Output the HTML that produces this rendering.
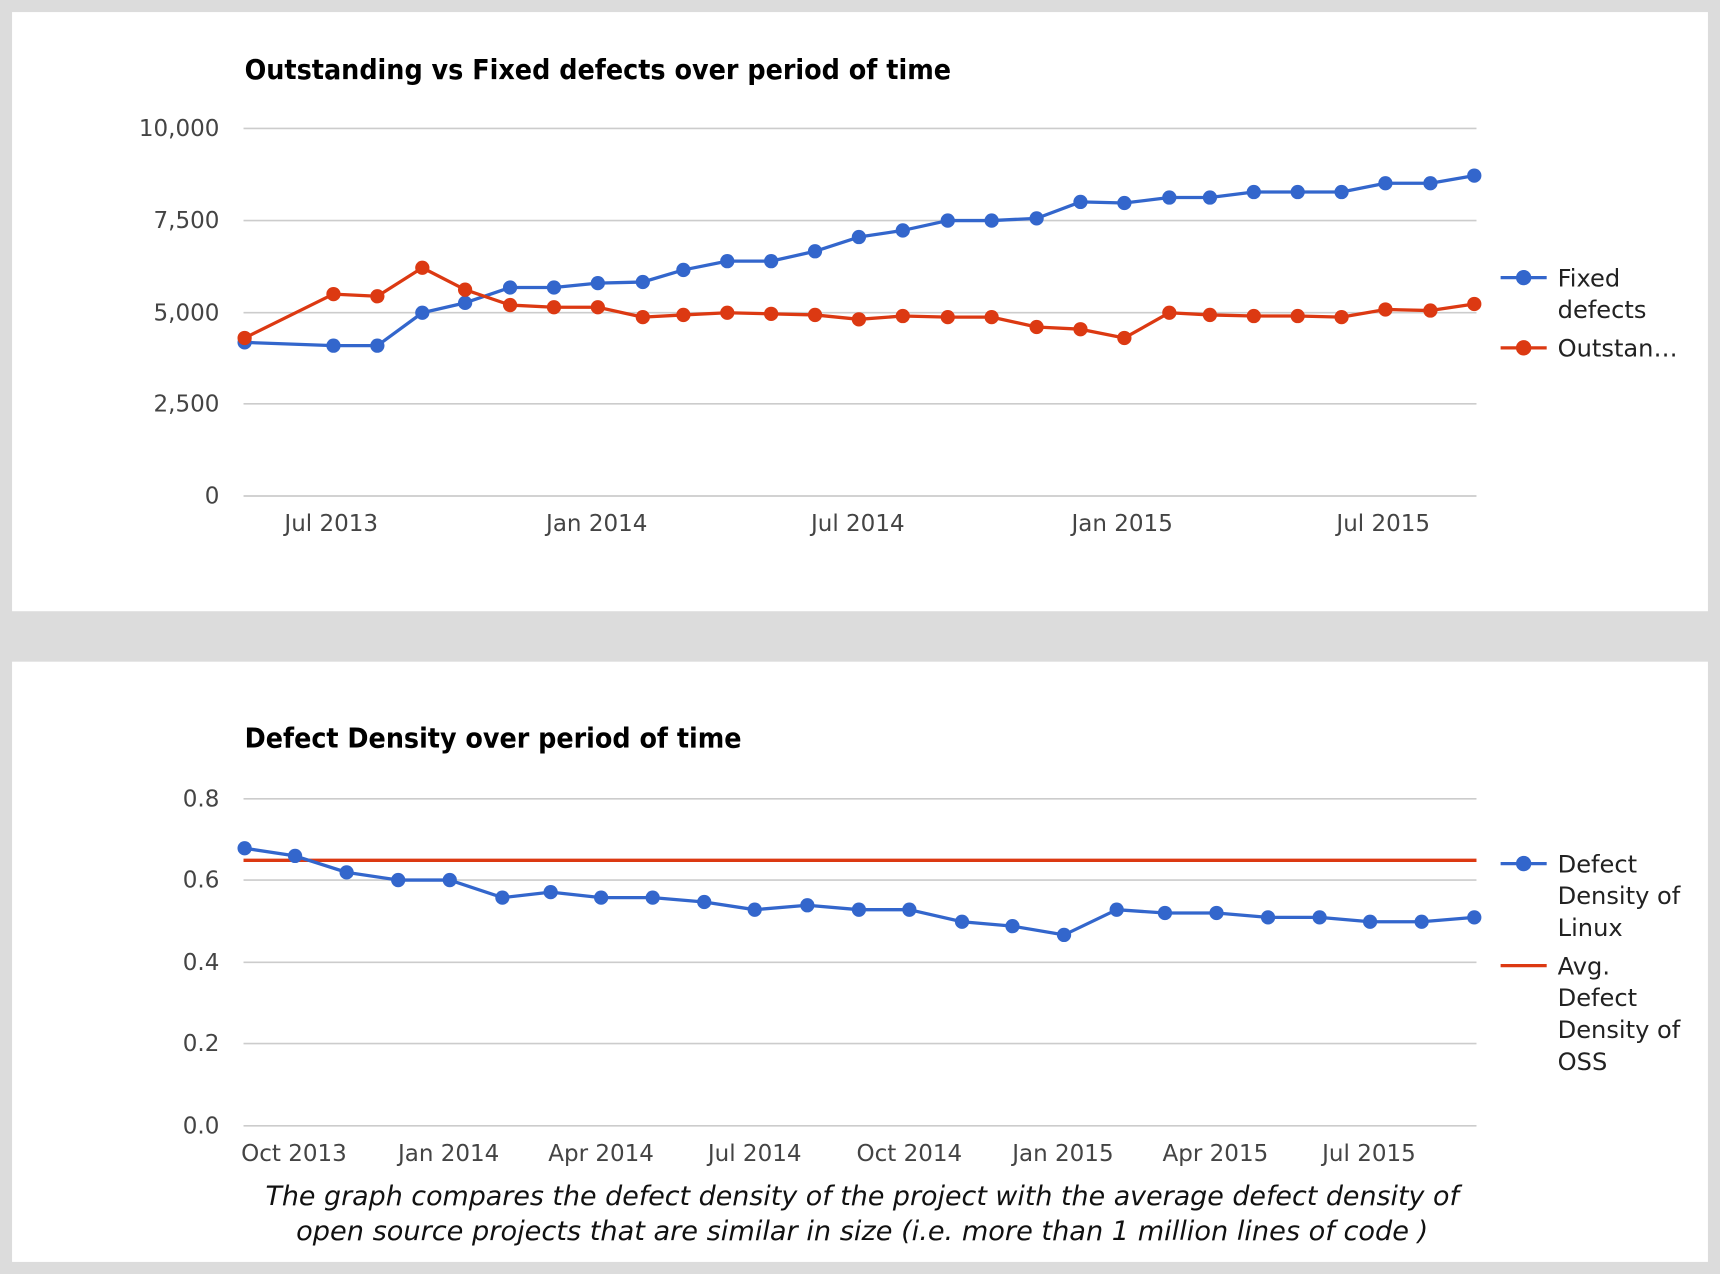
<!DOCTYPE html>
<html><head><meta charset="utf-8"><style>
html,body{margin:0;padding:0;background:#dcdcdc;}
svg{display:block;}
text{font-family:"DejaVu Sans","Liberation Sans",sans-serif;}
.t{font-size:25px;font-weight:bold;fill:#000;}
.ax{font-size:21px;fill:#444;}
.lg{font-size:22px;fill:#222;}
.g{stroke:#ccc;stroke-width:1.5;}
</style></head><body>
<svg width="1720" height="1274" viewBox="0 0 1568 1161" preserveAspectRatio="none">
<rect x="0" y="0" width="1568" height="1161" fill="#dcdcdc"/>
<rect x="11" y="11" width="1546" height="546" fill="#fff"/>
<rect x="11" y="603" width="1546" height="547" fill="#fff"/>

<!-- Chart 1 -->
<text class="t" x="223" y="72" textLength="644" lengthAdjust="spacingAndGlyphs">Outstanding vs Fixed defects over period of time</text>
<g class="g">
<line x1="222" y1="117" x2="1346" y2="117"/>
<line x1="222" y1="201" x2="1346" y2="201"/>
<line x1="222" y1="285" x2="1346" y2="285"/>
<line x1="222" y1="368" x2="1346" y2="368"/>
<line x1="222" y1="452" x2="1346" y2="452"/>
</g>
<g class="ax" text-anchor="end">
<text x="200" y="124">10,000</text>
<text x="200" y="208">7,500</text>
<text x="200" y="292">5,000</text>
<text x="200" y="375">2,500</text>
<text x="200" y="459">0</text>
</g>
<g class="ax" text-anchor="middle">
<text x="302" y="484">Jul 2013</text>
<text x="544" y="484">Jan 2014</text>
<text x="782" y="484">Jul 2014</text>
<text x="1023" y="484">Jan 2015</text>
<text x="1261" y="484">Jul 2015</text>
</g>
<g id="c1"></g>
<!-- legend 1 -->
<line x1="1368" y1="253" x2="1410" y2="253" stroke="#3366cc" stroke-width="3"/>
<circle cx="1389" cy="253" r="7" fill="#3366cc"/>
<text class="lg" x="1420" y="261">Fixed</text>
<text class="lg" x="1420" y="290">defects</text>
<line x1="1368" y1="317" x2="1410" y2="317" stroke="#dc3912" stroke-width="3"/>
<circle cx="1389" cy="317" r="7" fill="#dc3912"/>
<text class="lg" x="1420" y="325">Outstan…</text>

<!-- Chart 2 -->
<text class="t" x="223" y="681" textLength="453" lengthAdjust="spacingAndGlyphs">Defect Density over period of time</text>
<g class="g">
<line x1="222" y1="728" x2="1346" y2="728"/>
<line x1="222" y1="802" x2="1346" y2="802"/>
<line x1="222" y1="877" x2="1346" y2="877"/>
<line x1="222" y1="951" x2="1346" y2="951"/>
<line x1="222" y1="1026" x2="1346" y2="1026"/>
</g>
<g class="ax" text-anchor="end">
<text x="200" y="735">0.8</text>
<text x="200" y="809">0.6</text>
<text x="200" y="884">0.4</text>
<text x="200" y="958">0.2</text>
<text x="200" y="1033">0.0</text>
</g>
<g class="ax" text-anchor="middle">
<text x="268" y="1058">Oct 2013</text>
<text x="409" y="1058">Jan 2014</text>
<text x="548" y="1058">Apr 2014</text>
<text x="688" y="1058">Jul 2014</text>
<text x="829" y="1058">Oct 2014</text>
<text x="969" y="1058">Jan 2015</text>
<text x="1108" y="1058">Apr 2015</text>
<text x="1248" y="1058">Jul 2015</text>
</g>
<line x1="222" y1="784" x2="1346" y2="784" stroke="#dc3912" stroke-width="3"/>
<g id="c2"></g>
<line x1="1368" y1="787" x2="1410" y2="787" stroke="#3366cc" stroke-width="3"/>
<circle cx="1389" cy="787" r="7" fill="#3366cc"/>
<text class="lg" x="1420" y="795">Defect</text>
<text class="lg" x="1420" y="824">Density of</text>
<text class="lg" x="1420" y="853">Linux</text>
<line x1="1368" y1="880" x2="1410" y2="880" stroke="#dc3912" stroke-width="3"/>
<text class="lg" x="1420" y="888">Avg.</text>
<text class="lg" x="1420" y="917">Defect</text>
<text class="lg" x="1420" y="946">Density of</text>
<text class="lg" x="1420" y="975">OSS</text>

<g font-style="italic" font-size="24" fill="#111" text-anchor="middle">
<text x="786" y="1098" textLength="1088" lengthAdjust="spacingAndGlyphs">The graph compares the defect density of the project with the average defect density of</text>
<text x="786" y="1130" textLength="1032" lengthAdjust="spacingAndGlyphs">open source projects that are similar in size (i.e. more than 1 million lines of code )</text>
</g>
</svg>
<script>
var NS="http://www.w3.org/2000/svg";
function series(g,xs,ys,col){
 var p=document.createElementNS(NS,"polyline");
 p.setAttribute("points",xs.map(function(x,i){return x+","+ys[i]}).join(" "));
 p.setAttribute("fill","none");p.setAttribute("stroke",col);p.setAttribute("stroke-width","3");
 p.setAttribute("stroke-linejoin","round");g.appendChild(p);
 xs.forEach(function(x,i){var c=document.createElementNS(NS,"circle");c.setAttribute("cx",x);c.setAttribute("cy",ys[i]);c.setAttribute("r","6.5");c.setAttribute("fill",col);g.appendChild(c);});
}
var x1=[223,304,344,385,424,465,505,545,586,623,663,703,743,783,823,864,904,945,985,1025,1066,1103,1143,1183,1223,1263,1304,1344];
var b1=[312,315,315,285,276,262,262,258,257,246,238,238,229,216,210,201,201,199,184,185,180,180,175,175,175,167,167,160];
var r1=[308,268,270,244,264,278,280,280,289,287,285,286,287,291,288,289,289,298,300,308,285,287,288,288,289,282,283,277];
var g1=document.getElementById("c1");
series(g1,x1,b1,"#3366cc");series(g1,x1,r1,"#dc3912");
var x2=[223,269,316,363,410,458,502,548,595,642,688,736,783,829,877,923,970,1018,1062,1109,1156,1203,1249,1296,1344];
var b2=[773,780,795,802,802,818,813,818,818,822,829,825,829,829,840,844,852,829,832,832,836,836,840,840,836];
series(document.getElementById("c2"),x2,b2,"#3366cc");
</script>
</body></html>
